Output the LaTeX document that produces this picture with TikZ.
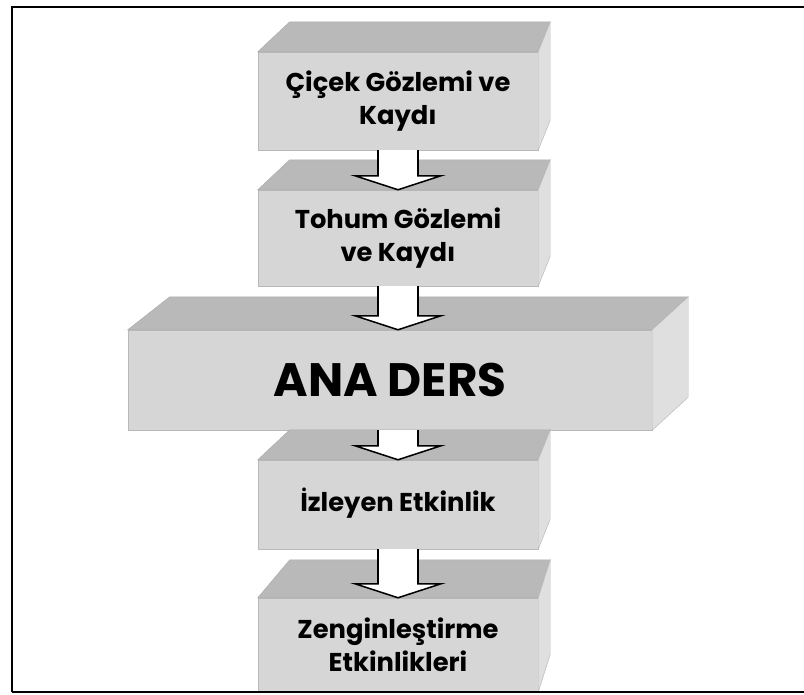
\documentclass[tikz,border=0pt]{standalone}
\usepackage{fontspec}
\setmainfont{Poppins}
\usetikzlibrary{calc}

\begin{document}
\begin{tikzpicture}[
		x=0.3mm, y=-0.3mm,
		thin,
		facebox/.style={fill=gray!32, draw=gray!55, inner sep=0pt, minimum width=84mm,
			align=center, font=\fontsize{22}{28}\selectfont\bfseries},
		topface/.style={fill=gray!55, draw=gray!65},
		sideface/.style={fill=gray!25, draw=gray!55},
		blockarrow/.style={draw, fill=white, line width=1.3pt, line join=miter}
	]
		\useasboundingbox (0,0) rectangle (804,694);

		% Front faces
		\node[facebox, minimum height=29.4mm] (cicek) at (398,101) {Çiçek Gözlemi ve\\Kaydı};
		\node[facebox, minimum height=28.8mm] (tohum) at (398,238) {Tohum Gözlemi\\ve Kaydı};
		\node[facebox, minimum width=157.2mm, minimum height=30mm,
			font=\fontsize{40}{44}\selectfont\bfseries] (anaders) at (390,380) {ANA DERS};
		\node[facebox, minimum height=26.7mm] (izleyen) at (398,504.5) {\raisebox{3mm}{İzleyen Etkinlik}};
		\node[facebox, minimum height=28.2mm] (zengin) at (398,645) {Zenginleştirme\\Etkinlikleri};

		% Top and right faces
		\foreach \b/\l/\r/\d in {cicek/32/12/30, tohum/32/12/30, anaders/42/36/33,
				izleyen/32/12/30, zengin/32/12/38} {
			\fill[topface] (\b.north west) -- ++(\l,-\d) -- ($(\b.north east)+(\r,-\d)$)
				-- (\b.north east) -- cycle;
			\fill[sideface] (\b.north east) -- ++(\r,-\d) -- ($(\b.south east)+(\r,-\d)$)
				-- (\b.south east) -- cycle;
		}

		% Arrows
		\foreach \u/\l/\c in {cicek/tohum/cicek, tohum/anaders/tohum,
				anaders/izleyen/izleyen, izleyen/zengin/izleyen} {
			\coordinate (s) at (\c.south |- \u.south);
			\coordinate (t) at (\c.south |- \l.north);
			\draw[blockarrow] ($(s)+(-20,0)$) -- ($(t)+(-20,-14)$) -- ($(t)+(-43,-14)$)
				-- (t) -- ($(t)+(43,-14)$) -- ($(t)+(20,-14)$) -- ($(s)+(20,0)$);
		}

		% Frame
		\draw[line width=2.5pt] (804,7) -- (12,7) -- (12,692);
		\draw[line width=1.8pt] (12,692) -- (804,692);
	\end{tikzpicture}
\end{document}
